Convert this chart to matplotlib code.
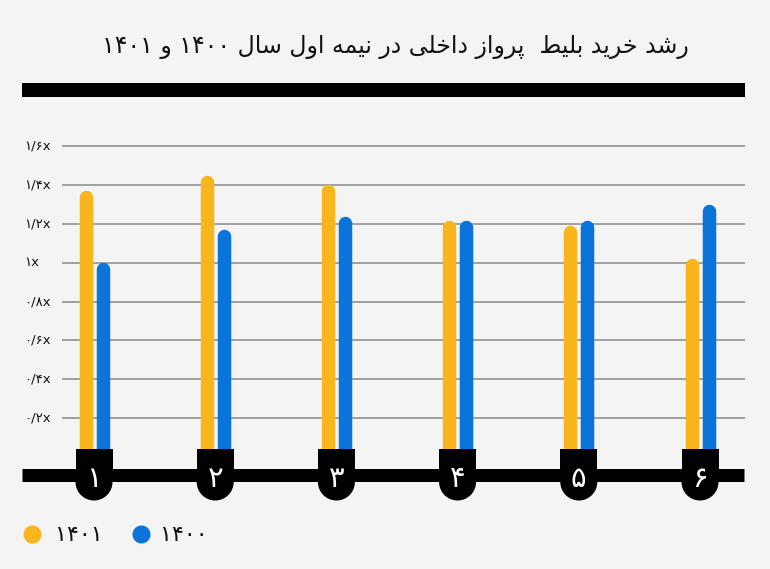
import re
import matplotlib
matplotlib.use("Agg")
import matplotlib.pyplot as plt
from matplotlib import font_manager, ft2font
from matplotlib.patches import Rectangle, Ellipse

# data
months = ["۱", "۲", "۳", "۴", "۵", "۶"]
y1401 = [1.37, 1.45, 1.40, 1.22, 1.19, 1.02]
y1400 = [1.00, 1.17, 1.24, 1.22, 1.22, 1.30]
tick_vals = [0.2, 0.4, 0.6, 0.8, 1.0, 1.2, 1.4, 1.6]
tick_labels = ["۰/۲x", "۰/۴x", "۰/۶x", "۰/۸x", "۱x", "۱/۲x", "۱/۴x", "۱/۶x"]
series_names = ["۱۴۰۱", "۱۴۰۰"]
title = "رشد خرید بلیط  پرواز داخلی در نیمه اول سال ۱۴۰۰ و ۱۴۰۱"

YELLOW = "#F9B51C"
BLUE = "#0A74DA"
BG = "#F4F4F4"
GRID = "#9A9A9A"

# --- minimal arabic/persian shaping (matplotlib has no bidi/shaping) ---
_font = ft2font.FT2Font(font_manager.findfont("DejaVu Sans"))
def _has(cp):
    return _font.get_char_index(cp) != 0

FORMS = {
    "ا": (0xFE8D, 0xFE8E), "د": (0xFEA9, 0xFEAA), "ر": (0xFEAD, 0xFEAE),
    "ز": (0xFEAF, 0xFEB0), "و": (0xFEED, 0xFEEE),
    "ب": (0xFE8F, 0xFE90, 0xFE91, 0xFE92), "خ": (0xFEA5, 0xFEA6, 0xFEA7, 0xFEA8),
    "س": (0xFEB1, 0xFEB2, 0xFEB3, 0xFEB4), "ش": (0xFEB5, 0xFEB6, 0xFEB7, 0xFEB8),
    "ط": (0xFEC1, 0xFEC2, 0xFEC3, 0xFEC4), "ل": (0xFEDD, 0xFEDE, 0xFEDF, 0xFEE0),
    "م": (0xFEE1, 0xFEE2, 0xFEE3, 0xFEE4), "ن": (0xFEE5, 0xFEE6, 0xFEE7, 0xFEE8),
    "ه": (0xFEE9, 0xFEEA, 0xFEEB, 0xFEEC),
}
FORMS["پ"] = (0xFB56, 0xFB57, 0xFB58, 0xFB59) if _has(0xFB58) else FORMS["ب"]
FORMS["ی"] = (0xFBFC, 0xFBFD, 0xFBFE, 0xFBFF) if _has(0xFBFE) else (0xFEEF, 0xFEF0, 0xFEF3, 0xFEF4)

def shape(text):
    out = []
    for i, ch in enumerate(text):
        f = FORMS.get(ch)
        if f is None:
            out.append(ch)
            continue
        prev = text[i - 1] if i > 0 else ""
        nxt = text[i + 1] if i + 1 < len(text) else ""
        jp = prev in FORMS and len(FORMS[prev]) == 4
        jn = len(f) == 4 and nxt in FORMS
        if jp and jn:
            cp = f[3]
        elif jp:
            cp = f[1]
        elif jn:
            cp = f[2]
        else:
            cp = f[0]
        out.append(chr(cp))
    s = "".join(out)
    # visual order: reverse, but keep digit runs left-to-right
    parts = re.split(r"([۰-۹0-9]+)", s)
    parts = [p if re.fullmatch(r"[۰-۹0-9]+", p) else p[::-1] for p in parts]
    return "".join(parts[::-1])

# --- layout (pixel based, figure 770x569) ---
W, H = 770, 569
px_unit = 194.7          # pixels per 1.0x
zero_px = 457.3          # y pixel of value 0
gx0, gdx = 94.0, 121.2   # first group centre and spacing in px
ax_l, ax_r, ax_t, ax_b = 22, 745, 75, 505

fig = plt.figure(figsize=(W / 100, H / 100), dpi=100, facecolor=BG)
ax = fig.add_axes([ax_l / W, 1 - ax_b / H, (ax_r - ax_l) / W, (ax_b - ax_t) / H])
ax.set_facecolor(BG)
ax.set_xlim((ax_l - gx0) / gdx, (ax_r - gx0) / gdx)
ax.set_ylim((zero_px - ax_b) / px_unit, (zero_px - ax_t) / px_unit)
ax.axis("off")

def vy(py):
    return (zero_px - py) / px_unit

def dx(px):
    return px / gdx

# gridlines and y labels
ax.hlines(tick_vals, dx(62 - gx0), ax.get_xlim()[1], color=GRID, lw=1.3, zorder=1)
for v, lab in zip(tick_vals, tick_labels):
    ax.text(dx(24 - gx0), v, lab, ha="left", va="center", fontsize=9.5, color="#111111")

# bars with rounded tops
x = list(range(len(months)))
bw_px = 13.5
r = (bw_px / 2) / px_unit
off = dx(8.5)
ax.vlines([i - off for i in x], 0, [v - r for v in y1401], color=YELLOW,
          lw=bw_px * 0.72, capstyle="round", zorder=2)
ax.vlines([i + off for i in x], 0, [v - r for v in y1400], color=BLUE,
          lw=bw_px * 0.72, capstyle="round", zorder=2)

# black top rule and baseline
ax.axhline(vy(90), color="black", lw=14 * 0.72, solid_capstyle="butt", zorder=3)
ax.hlines(vy(474.5), ax.get_xlim()[0], dx(744 - gx0), color="black",
          lw=13 * 0.72, capstyle="butt", zorder=3)

# month tabs
half = dx(18.5)
for i, m in enumerate(months):
    ax.add_patch(Rectangle((i - half, vy(482)), 2 * half, vy(449) - vy(482),
                           color="black", lw=0, zorder=3))
    ax.add_patch(Ellipse((i, vy(482)), 2 * half, 37 / px_unit, color="black", lw=0, zorder=3))
    ax.text(i, vy(479), m, ha="center", va="center", color="white",
            fontsize=21, zorder=4)

# title
fig.text(395 / W, 1 - 47 / H, shape(title), ha="center", va="center", fontsize=17, color="#111111")

# legend
lax = fig.add_axes([0, 0, 1, 1])
lax.set_xlim(0, W)
lax.set_ylim(H, 0)
lax.axis("off")
lax.patch.set_alpha(0)
for (cx, tx), name, col in zip([(32, 55), (141, 160)], series_names, [YELLOW, BLUE]):
    lax.scatter([cx], [534], s=13 ** 2, color=col, lw=0)
    lax.text(tx, 535, name, ha="left", va="center", fontsize=16, color="#111111")

fig.savefig("out.png", dpi=100, facecolor=BG)
